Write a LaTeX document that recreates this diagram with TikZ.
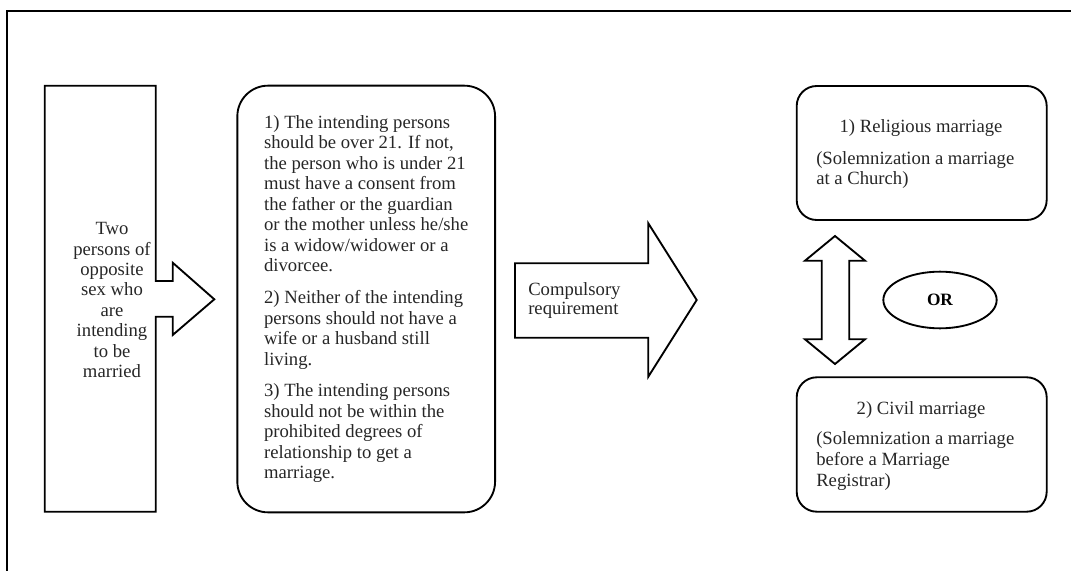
\documentclass[tikz,border=0pt]{standalone}
\usepackage{fontspec}
\setmainfont{Liberation Serif}
\usetikzlibrary{shapes.geometric}
\tikzset{
  shapeline/.style={draw=black, line width=1.4pt, line join=miter},
  txt/.style={inner sep=0pt, font=\fontsize{14pt}{15.4pt}\selectfont, text=black!85},
  roundbox/.style={shapeline, rectangle, inner sep=0pt},
}
\begin{document}
\begin{tikzpicture}[x=0.75pt, y=-0.75pt]
\useasboundingbox (0,0) rectangle (1071,571);
% outer frame
\draw[line width=1.6pt] (7,571) -- (7,11) -- (1071,11);

% left callout shape
\draw[shapeline] (44.7,85.7) -- (155.7,85.7) -- (155.7,281) -- (172.7,281) -- (172.7,262.7)
  -- (214.3,299.3) -- (172.7,335) -- (172.7,316.7) -- (155.7,316.7) -- (155.7,511.7)
  -- (44.7,511.7) -- cycle;
\node[txt, align=center, font=\fontsize{14pt}{15.3pt}\selectfont] (persons) at (112,300)
  {Two\\persons of\\opposite\\sex who\\are\\intending\\to be\\married};

% middle rounded box with requirements
\node[roundbox, rounded corners=23pt, minimum width=193.3pt, minimum height=320pt,
  txt, draw, line width=1.4pt, align=left] (req) at (366.2,299)
  {1) The intending persons\\should be over 21. If not,\\the person who is under 21\\must have a consent from\\the father or the guardian\\or the mother unless he/she\\is a widow/widower or a\\divorcee.\\[8.4pt]
   2) Neither of the intending\\persons should not have a\\wife or a husband still\\living.\\[8.4pt]
   3) The intending persons\\should not be within the\\prohibited degrees of\\relationship to get a\\marriage.};

% compulsory arrow
\draw[shapeline] (515,263.3) -- (648.3,263.3) -- (648.3,223.3) -- (696.7,300)
  -- (648.3,376.7) -- (648.3,337.7) -- (515,337.7) -- cycle;
\node[txt, align=left, anchor=west, font=\fontsize{14pt}{14.5pt}\selectfont] (comp) at (528,300.5)
  {Compulsory\\requirement};

% right boxes
\node[roundbox, rounded corners=15pt, minimum width=187.5pt, minimum height=100.5pt] (rel) at (921.7,153) {};
\node[txt] (relt) at (921,128.5) {1) Religious marriage};
\node[txt, align=left, anchor=west] (rels) at (816,170) {(Solemnization a marriage\\at a Church)};

\node[roundbox, rounded corners=15pt, minimum width=187.5pt, minimum height=100.8pt] (civ) at (921.7,444.5) {};
\node[txt] (civt) at (921,410) {2) Civil marriage};
\node[txt, align=left, anchor=west] (civs) at (816,461) {(Solemnization a marriage\\before a Marriage\\Registrar)};

% double arrow
\draw[shapeline] (835,236) -- (865,260.7) -- (849.3,260.7) -- (849.3,339.3) -- (865,339.3)
  -- (835,364) -- (805,339.3) -- (821.7,339.3) -- (821.7,260.7) -- (805,260.7) -- cycle;

% OR ellipse
\node[shapeline, ellipse, minimum width=85pt, minimum height=42.5pt, inner sep=0pt,
  font=\fontsize{13pt}{15pt}\selectfont\bfseries] (or) at (940,300) {OR};
\end{tikzpicture}
\end{document}
